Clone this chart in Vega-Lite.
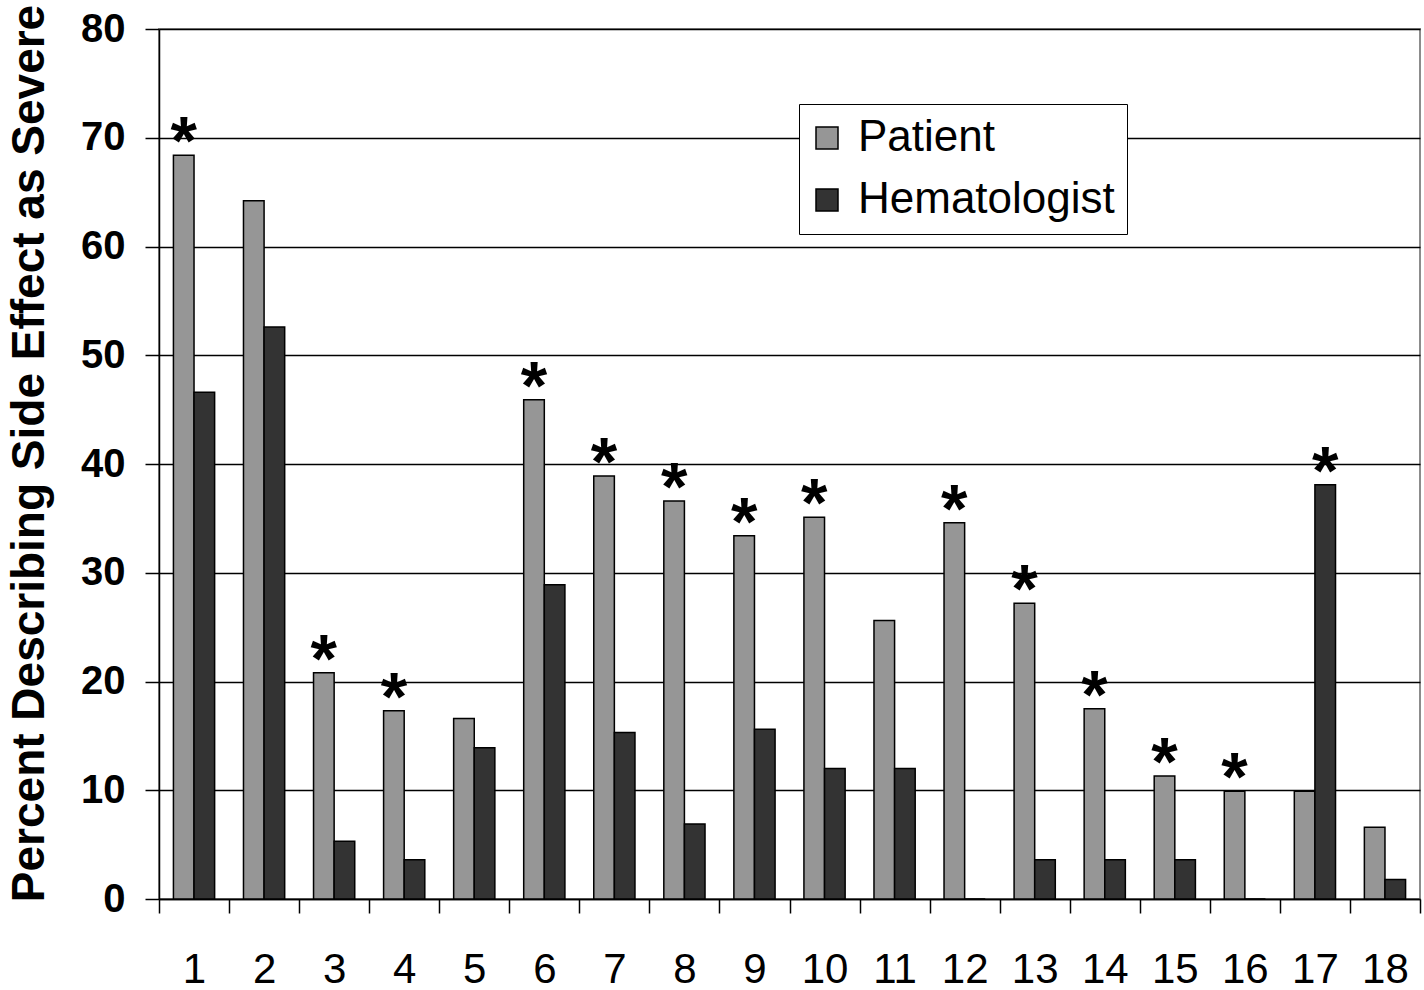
{
  "$schema": "https://vega.github.io/schema/vega-lite/v6.json",
  "width": 1261,
  "height": 870,
  "autosize": {"type": "none"},
  "padding": {"left": 159, "top": 29, "right": 4, "bottom": 91},
  "background": "white",
  "config": {
    "font": "Liberation Sans",
    "view": {"stroke": "#8c8c8c", "strokeWidth": 2}
  },
  "data": {
    "values": [
      {"item": 1, "group": "Patient", "value": 68.4, "sig": "*"},
      {"item": 1, "group": "Hematologist", "value": 46.6, "sig": ""},
      {"item": 2, "group": "Patient", "value": 64.2, "sig": ""},
      {"item": 2, "group": "Hematologist", "value": 52.6, "sig": ""},
      {"item": 3, "group": "Patient", "value": 20.8, "sig": "*"},
      {"item": 3, "group": "Hematologist", "value": 5.3, "sig": ""},
      {"item": 4, "group": "Patient", "value": 17.3, "sig": "*"},
      {"item": 4, "group": "Hematologist", "value": 3.6, "sig": ""},
      {"item": 5, "group": "Patient", "value": 16.6, "sig": ""},
      {"item": 5, "group": "Hematologist", "value": 13.9, "sig": ""},
      {"item": 6, "group": "Patient", "value": 45.9, "sig": "*"},
      {"item": 6, "group": "Hematologist", "value": 28.9, "sig": ""},
      {"item": 7, "group": "Patient", "value": 38.9, "sig": "*"},
      {"item": 7, "group": "Hematologist", "value": 15.3, "sig": ""},
      {"item": 8, "group": "Patient", "value": 36.6, "sig": "*"},
      {"item": 8, "group": "Hematologist", "value": 6.9, "sig": ""},
      {"item": 9, "group": "Patient", "value": 33.4, "sig": "*"},
      {"item": 9, "group": "Hematologist", "value": 15.6, "sig": ""},
      {"item": 10, "group": "Patient", "value": 35.1, "sig": "*"},
      {"item": 10, "group": "Hematologist", "value": 12.0, "sig": ""},
      {"item": 11, "group": "Patient", "value": 25.6, "sig": ""},
      {"item": 11, "group": "Hematologist", "value": 12.0, "sig": ""},
      {"item": 12, "group": "Patient", "value": 34.6, "sig": "*"},
      {"item": 12, "group": "Hematologist", "value": 0, "sig": ""},
      {"item": 13, "group": "Patient", "value": 27.2, "sig": "*"},
      {"item": 13, "group": "Hematologist", "value": 3.6, "sig": ""},
      {"item": 14, "group": "Patient", "value": 17.5, "sig": "*"},
      {"item": 14, "group": "Hematologist", "value": 3.6, "sig": ""},
      {"item": 15, "group": "Patient", "value": 11.3, "sig": "*"},
      {"item": 15, "group": "Hematologist", "value": 3.6, "sig": ""},
      {"item": 16, "group": "Patient", "value": 9.9, "sig": "*"},
      {"item": 16, "group": "Hematologist", "value": 0, "sig": ""},
      {"item": 17, "group": "Patient", "value": 9.9, "sig": ""},
      {"item": 17, "group": "Hematologist", "value": 38.1, "sig": "*"},
      {"item": 18, "group": "Patient", "value": 6.6, "sig": ""},
      {"item": 18, "group": "Hematologist", "value": 1.8, "sig": ""}
    ]
  },
  "encoding": {
    "x": {
      "field": "item",
      "type": "ordinal",
      "scale": {"paddingInner": 0, "paddingOuter": 0},
      "axis": {
        "title": null,
        "labelAngle": 0,
        "labelFontSize": 42,
        "labelColor": "black",
        "labelPadding": 36,
        "tickBand": "extent",
        "tickSize": 14,
        "tickColor": "black",
        "tickWidth": 1.5,
        "domainColor": "black",
        "domainWidth": 1.5,
        "grid": false
      }
    },
    "xOffset": {
      "field": "group",
      "type": "nominal",
      "scale": {"domain": ["Patient", "Hematologist"], "paddingInner": 0, "paddingOuter": 0.7}
    },
    "y": {
      "field": "value",
      "type": "quantitative",
      "scale": {"domain": [0, 80]},
      "axis": {
        "title": "Percent Describing Side Effect as Severe",
        "titleFontSize": 46,
        "titleFontWeight": "bold",
        "titleColor": "black",
        "titleAngle": -90,
        "titleX": -130,
        "titleY": 424,
        "titleAlign": "center",
        "titleBaseline": "middle",
        "values": [0, 10, 20, 30, 40, 50, 60, 70, 80],
        "labelFontSize": 40,
        "labelFontWeight": "bold",
        "labelColor": "black",
        "labelPadding": 20,
        "tickSize": 14,
        "tickColor": "black",
        "tickWidth": 1.5,
        "domainColor": "black",
        "domainWidth": 1.5,
        "grid": true,
        "gridColor": "black",
        "gridWidth": 1.3,
        "gridOpacity": 1
      }
    }
  },
  "layer": [
    {
      "mark": {"type": "bar", "stroke": "black", "strokeWidth": 1.5},
      "encoding": {
        "color": {
          "field": "group",
          "type": "nominal",
          "scale": {"domain": ["Patient", "Hematologist"], "range": ["#969696", "#333333"]},
          "legend": {
            "title": null,
            "orient": "none",
            "legendX": 640,
            "legendY": 75,
            "fillColor": "white",
            "strokeColor": "black",
            "padding": 12,
            "symbolType": "square",
            "symbolSize": 484,
            "symbolOffset": -6,
            "symbolStrokeColor": "black",
            "symbolStrokeWidth": 1.5,
            "symbolOpacity": 1,
            "labelFontSize": 44,
            "labelLimit": 500,
            "labelColor": "black",
            "labelOffset": 9,
            "rowPadding": 18
          }
        }
      }
    },
    {
      "transform": [{"filter": "datum.sig === '*'"}],
      "mark": {"type": "text", "fontSize": 68, "fontWeight": "bold", "color": "black", "baseline": "alphabetic", "dy": 9},
      "encoding": {
        "text": {"field": "sig"}
      }
    }
  ]
}
